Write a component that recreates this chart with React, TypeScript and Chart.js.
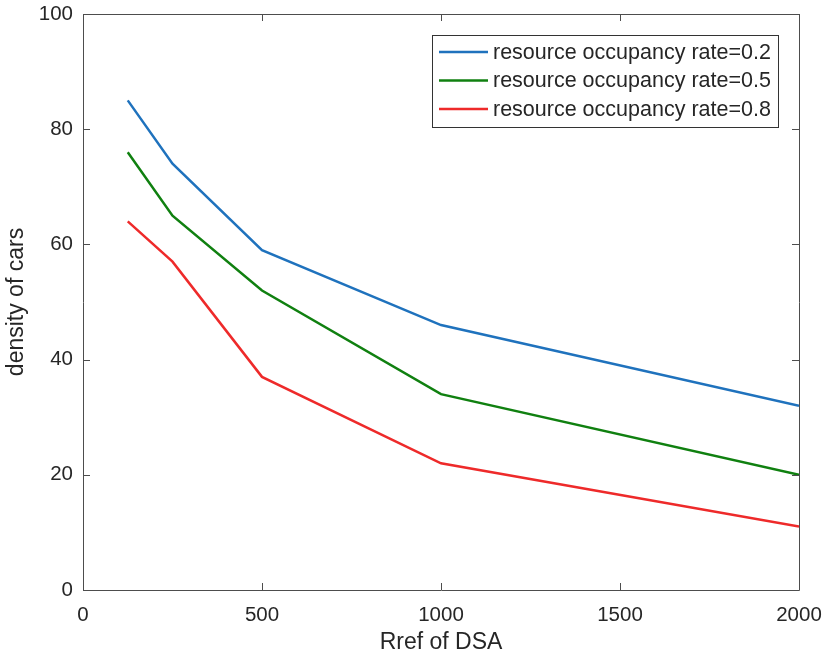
import React, { useEffect, useRef } from "react";
import { Chart, registerables } from "chart.js";

Chart.register(...registerables);

const xValues = [125, 250, 500, 1000, 2000];
const rate02 = [85, 74, 59, 46, 32];
const rate05 = [76, 65, 52, 34, 20];
const rate08 = [64, 57, 37, 22, 11];
const seriesLabels = [
  "resource occupancy rate=0.2",
  "resource occupancy rate=0.5",
  "resource occupancy rate=0.8",
];
const seriesColors = ["#1f72bd", "#108010", "#ee2a2a"];
const xTicks = [0, 500, 1000, 1500, 2000];
const yTicks = [0, 20, 40, 60, 80, 100];

const FONT = "'Liberation Sans', Arial, sans-serif";
const TEXT = "#262626";
const AXIS = "#4d4d4d";

const boxTicksPlugin = {
  id: "boxTicks",
  afterDatasetsDraw(chart: any) {
    const { ctx, chartArea: a, scales } = chart;
    const xs = scales.x;
    const ys = scales.y;
    const len = 7;
    ctx.save();
    ctx.strokeStyle = AXIS;
    ctx.lineWidth = 1;
    ctx.beginPath();
    ctx.rect(a.left + 0.5, a.top + 0.5, a.right - a.left, a.bottom - a.top);
    for (const v of xTicks) {
      const px = Math.round(xs.getPixelForValue(v)) + 0.5;
      ctx.moveTo(px, a.bottom);
      ctx.lineTo(px, a.bottom - len);
      ctx.moveTo(px, a.top);
      ctx.lineTo(px, a.top + len);
    }
    for (const v of yTicks) {
      const py = Math.round(ys.getPixelForValue(v)) + 0.5;
      ctx.moveTo(a.left, py);
      ctx.lineTo(a.left + len, py);
      ctx.moveTo(a.right, py);
      ctx.lineTo(a.right - len, py);
    }
    ctx.stroke();

    // legend box
    const bw = 346;
    const bh = 92;
    const bx = a.right - 21 - bw;
    const by = a.top + 21;
    ctx.fillStyle = "#ffffff";
    ctx.fillRect(bx, by, bw, bh);
    ctx.strokeStyle = "#333333";
    ctx.strokeRect(bx + 0.5, by + 0.5, bw, bh);
    ctx.font = `21.5px ${FONT}`;
    ctx.textBaseline = "middle";
    ctx.textAlign = "left";
    chart.data.datasets.forEach((ds: any, i: number) => {
      const cy = by + 17 + i * 28.5;
      ctx.strokeStyle = ds.borderColor;
      ctx.lineWidth = 2.5;
      ctx.beginPath();
      ctx.moveTo(bx + 7, cy);
      ctx.lineTo(bx + 56, cy);
      ctx.stroke();
      ctx.fillStyle = TEXT;
      ctx.fillText(ds.label, bx + 61, cy + 1);
    });
    ctx.restore();
  },
};

export default function App() {
  const ref = useRef<HTMLCanvasElement | null>(null);
  useEffect(() => {
    if (!ref.current) return;
    const datasets = [rate02, rate05, rate08].map((vals, i) => ({
      label: seriesLabels[i],
      data: vals.map((y, j) => ({ x: xValues[j], y })),
      borderColor: seriesColors[i],
      backgroundColor: seriesColors[i],
      borderWidth: 2.5,
      pointRadius: 0,
      tension: 0,
      fill: false,
    }));
    const chart = new Chart(ref.current, {
      type: "line",
      data: { datasets },
      options: {
        animation: false,
        responsive: false,
        maintainAspectRatio: false,
        layout: { padding: { left: 0, top: 14, right: 28, bottom: 0 } },
        plugins: { legend: { display: false }, tooltip: { enabled: false } },
        scales: {
          x: {
            type: "linear",
            min: 0,
            max: 2000,
            afterBuildTicks: (s: any) => {
              s.ticks = xTicks.map((v) => ({ value: v }));
            },
            afterFit: (s: any) => {
              s.height = 66;
              s.paddingLeft = 0;
              s.paddingRight = 0;
            },
            grid: { display: false, drawTicks: false },
            border: { display: false },
            ticks: {
              color: TEXT,
              font: { family: FONT, size: 20.5 },
              padding: 13,
              maxRotation: 0,
              autoSkip: false,
              callback: (v: any) => String(v),
            },
            title: {
              display: true,
              text: "Rref of DSA",
              color: TEXT,
              font: { family: FONT, size: 23 },
              padding: { top: 0, bottom: 0 },
            },
          },
          y: {
            type: "linear",
            min: 0,
            max: 100,
            afterBuildTicks: (s: any) => {
              s.ticks = yTicks.map((v) => ({ value: v }));
            },
            afterFit: (s: any) => {
              s.width = 83;
              s.paddingTop = 0;
              s.paddingBottom = 0;
            },
            grid: { display: false, drawTicks: false },
            border: { display: false },
            ticks: {
              color: TEXT,
              font: { family: FONT, size: 20.5 },
              padding: 10,
              autoSkip: false,
              callback: (v: any) => String(v),
            },
            title: {
              display: true,
              text: "density of cars",
              color: TEXT,
              font: { family: FONT, size: 23 },
              padding: { top: 3, bottom: 0 },
            },
          },
        },
      },
      plugins: [boxTicksPlugin],
    });
    return () => chart.destroy();
  }, []);
  return (
    <div style={{ position: "absolute", left: 0, top: 0, width: 827, height: 656, background: "#fff" }}>
      <canvas ref={ref} width={827} height={656} style={{ display: "block" }} />
    </div>
  );
}
